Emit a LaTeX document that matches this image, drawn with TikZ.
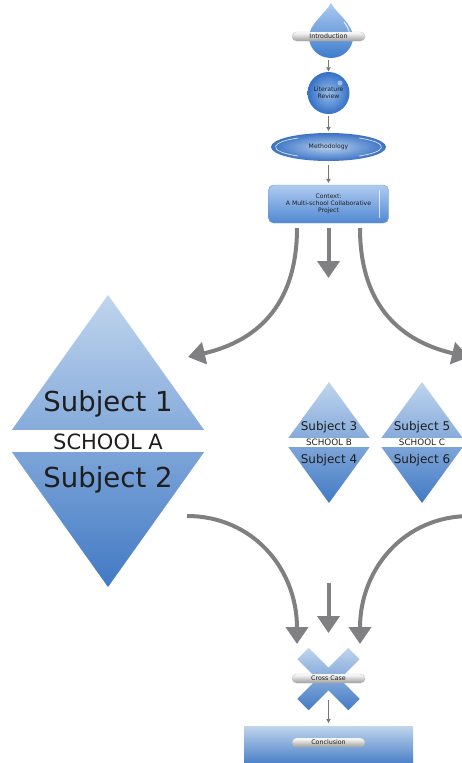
\documentclass[tikz,border=0pt]{standalone}
\usepackage{fontspec}
\setmainfont{DejaVu Sans}
\usetikzlibrary{arrows.meta,shapes.geometric}

\definecolor{flowgray}{RGB}{128,128,131}
\definecolor{linkgray}{RGB}{118,118,118}
\definecolor{inkdark}{RGB}{30,30,30}
\definecolor{skyA}{RGB}{192,213,238}
\definecolor{skyB}{RGB}{66,122,196}
\definecolor{dropTop}{RGB}{172,203,240}
\definecolor{dropBot}{RGB}{62,124,204}
\definecolor{orbIn}{RGB}{150,188,235}
\definecolor{orbOut}{RGB}{52,112,197}
\definecolor{ovalIn}{RGB}{182,208,240}
\definecolor{ovalOut}{RGB}{58,114,196}
\definecolor{boxTop}{RGB}{176,203,239}
\definecolor{boxBot}{RGB}{80,136,210}
\definecolor{boxEdge}{RGB}{110,158,220}

\begin{document}
\begin{tikzpicture}[x=1pt,y=-1pt,
  bigflow/.style={draw=flowgray, line width=4pt, -{Triangle[length=17pt,width=22pt]}},
  link/.style={draw=linkgray, line width=0.7pt, -{Triangle[length=4pt,width=4.5pt]}},
  pill/.style={rounded corners=4.5pt, minimum width=73pt, minimum height=9pt, inner sep=0pt,
    top color=white, bottom color=black!38, draw=black!28, line width=0.3pt,
    text=inkdark, font=\fontsize{6.3}{7}\selectfont},
  lbl/.style={text=inkdark, align=center, font=\fontsize{6.1}{7.1}\selectfont},
  big/.style={anchor=base, text=inkdark, font=\fontsize{27.5}{30}\selectfont},
  bigschool/.style={anchor=base, text=inkdark, font=\fontsize{21}{24}\selectfont},
  small/.style={anchor=base, text=inkdark, font=\fontsize{12}{14}\selectfont},
  smallschool/.style={anchor=base, text=inkdark, font=\fontsize{8.8}{10}\selectfont},
]
\useasboundingbox (0,0) rectangle (462,763);

% ---------- Introduction drop ----------
\shade[top color=dropTop, bottom color=dropBot]
  (331,3) .. controls (336,13) and (353,24) .. (353,37)
  .. controls (353,49) and (343,58) .. (331,58)
  .. controls (319,58) and (309,49) .. (309,37)
  .. controls (309,24) and (326,13) .. (331,3) -- cycle;
\draw[white, line width=1.2pt, opacity=0.7, line cap=round]
  (344,22) .. controls (348,27) and (350,32) .. (350,38);
\node[pill] (intro) at (328.5,36.5) {Introduction};
\coordinate (dropBase) at (328.5,60);

% ---------- Literature review ----------
\node[circle, minimum size=42pt, inner sep=0pt, inner color=orbIn, outer color=orbOut, lbl]
  (lit) at (328.5,93) {Literature\\Review};
\fill[white, opacity=0.45] (340,83) circle (2.5);
\draw[link, shorten >=0.5pt] (dropBase) -- (lit.north);

% ---------- Methodology ----------
\node[ellipse, minimum width=115pt, minimum height=28pt, inner sep=0pt,
  inner color=ovalIn, outer color=ovalOut, lbl] (meth) at (328.5,147) {Methodology};
\draw[white, line width=0.6pt, opacity=0.85]
  (328.5,147) ++(125:53 and 11) arc[start angle=125, end angle=235, x radius=53, y radius=11];
\draw[white, line width=0.6pt, opacity=0.85]
  (328.5,147) ++(-55:53 and 11) arc[start angle=-55, end angle=55, x radius=53, y radius=11];
\draw[link, shorten <=1.5pt, shorten >=2pt] (lit) -- (meth);

% ---------- Context ----------
\node[rectangle, rounded corners=5pt, minimum width=120pt, minimum height=38pt,
  top color=boxTop, bottom color=boxBot, draw=boxEdge, line width=0.4pt, lbl]
  (ctx) at (328.5,204) {Context:\\A Multi-school Collaborative\\Project};
\draw[white, line width=0.6pt, opacity=0.75] (379,190) -- (379,218);
\draw[link, shorten <=4pt, shorten >=2pt] (meth) -- (ctx);

% ---------- fan-out arrows ----------
\coordinate (fanL) at (297,228);
\coordinate (fanM) at (328.5,228);
\coordinate (fanR) at (360,228);
\coordinate (toA) at (188,357);
\coordinate (midTip) at (328.5,278);
\coordinate (toC) at (469,357);
\draw[bigflow] (fanL) .. controls (297,300) and (262,340) .. (toA);
\draw[bigflow] (fanM) -- (midTip);
\draw[bigflow] (fanR) .. controls (360,300) and (395,340) .. (toC);

% ---------- School A ----------
\shade[top color=skyA, bottom color=skyB]
  (108,295) -- (212,441) -- (108,587) -- (4,441) -- cycle;
\fill[white] (0,430) rectangle (216,452);
\node[big] (subj1) at (108,411) {Subject 1};
\node[bigschool] (schA) at (108,449) {SCHOOL A};
\node[big] (subj2) at (108,487) {Subject 2};

% ---------- Schools B and C ----------
\shade[top color=skyA, bottom color=skyB]
  (329,382) -- (373,442.5) -- (329,503) -- (285,442.5) -- cycle;
\shade[top color=skyA, bottom color=skyB]
  (422,382) -- (466,442.5) -- (422,503) -- (378,442.5) -- cycle;
\fill[white] (280,438) rectangle (462,447);
\node[small] (subj3) at (329,430) {Subject 3};
\node[smallschool] (schB) at (329,445.5) {SCHOOL B};
\node[small] (subj4) at (329,463) {Subject 4};
\node[small] (subj5) at (422,430) {Subject 5};
\node[smallschool] (schC) at (422,445.5) {SCHOOL C};
\node[small] (subj6) at (422,463) {Subject 6};

% ---------- merging arrows ----------
\coordinate (fromA) at (187,516);
\coordinate (fromC) at (470,516);
\coordinate (mergeL) at (297,644);
\coordinate (mergeR) at (360,644);
\coordinate (dropM) at (328.5,583);
\coordinate (mergeM) at (328.5,633);
\draw[bigflow] (fromA) .. controls (252,516) and (297,568) .. (mergeL);
\draw[bigflow] (fromC) .. controls (405,516) and (360,568) .. (mergeR);
\draw[bigflow] (dropM) -- (mergeM);

% ---------- Cross case ----------
\shade[top color=skyA, bottom color=skyB]
  (308.7,647.8) -- (359.7,698.8) -- (348.3,710.2) -- (297.3,659.2) -- cycle
  (348.3,647.8) -- (359.7,659.2) -- (308.7,710.2) -- (297.3,698.8) -- cycle;
\node[pill] (cross) at (328.5,678.5) {Cross Case};
\coordinate (crossFoot) at (328.5,700);

% ---------- Conclusion ----------
\node[rectangle, minimum width=169pt, minimum height=40pt, inner sep=0pt,
  top color=skyA, bottom color=skyB] (conc) at (328.5,746) {};
\node[pill] (concLabel) at (328.5,742.5) {Conclusion};
\draw[link, shorten >=3pt] (crossFoot) -- (conc.north);
\end{tikzpicture}
\end{document}
